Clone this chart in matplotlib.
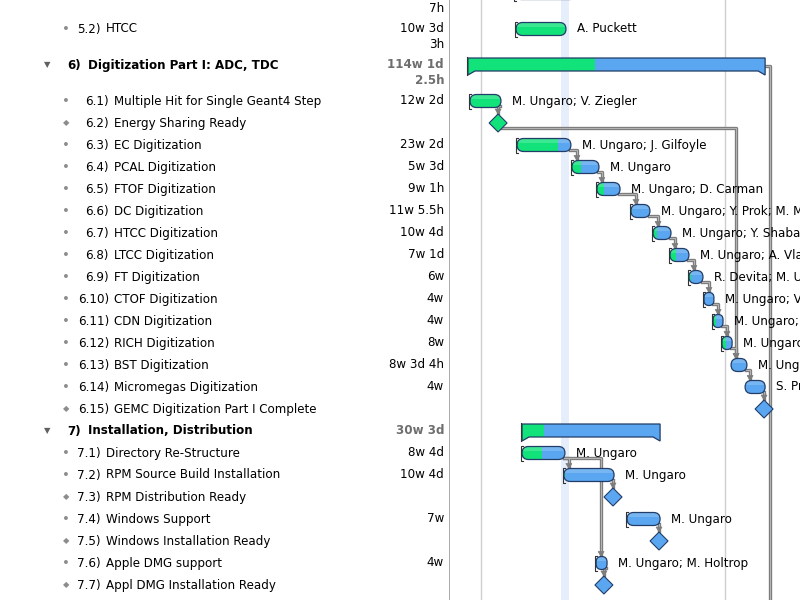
import matplotlib
matplotlib.use("Agg")
import matplotlib.pyplot as plt
from matplotlib.patches import FancyBboxPatch, Polygon, Rectangle

# outline rows (the first one is cut off by the top of the window)
numbers = ["5.1)", "5.2)", "6)", "6.1)", "6.2)", "6.3)", "6.4)", "6.5)", "6.6)",
           "6.7)", "6.8)", "6.9)", "6.10)", "6.11)", "6.12)", "6.13)", "6.14)",
           "6.15)", "7)", "7.1)", "7.2)", "7.3)", "7.4)", "7.5)", "7.6)", "7.7)"]
names = ["", "HTCC", "Digitization Part I: ADC, TDC",
         "Multiple Hit for Single Geant4 Step", "Energy Sharing Ready",
         "EC Digitization", "PCAL Digitization", "FTOF Digitization",
         "DC Digitization", "HTCC Digitization", "LTCC Digitization",
         "FT Digitization", "CTOF Digitization", "CDN Digitization",
         "RICH Digitization", "BST Digitization", "Micromegas Digitization",
         "GEMC Digitization Part I Complete", "Installation, Distribution",
         "Directory Re-Structure", "RPM Source Build Installation",
         "RPM Distribution Ready", "Windows Support",
         "Windows Installation Ready", "Apple DMG support",
         "Appl DMG Installation Ready"]
kinds = ["task", "task", "group", "task", "milestone", "task", "task", "task",
         "task", "task", "task", "task", "task", "task", "task", "task", "task",
         "milestone", "group", "task", "task", "milestone", "task", "milestone",
         "task", "milestone"]
durations = [("", "7h"), ("10w 3d", "3h"), ("114w 1d", "2.5h"), ("12w 2d",), ("",),
             ("23w 2d",), ("5w 3d",), ("9w 1h",), ("11w 5.5h",), ("10w 4d",),
             ("7w 1d",), ("6w",), ("4w",), ("4w",), ("8w",), ("8w 3d 4h",),
             ("4w",), ("",), ("30w 3d",), ("8w 4d",), ("10w 4d",), ("",),
             ("7w",), ("",), ("4w",), ("",)]

# schedule in weeks from the left edge of the gantt view
starts = [25.0, 25.4, 6.9, 7.7, 18.5, 25.8, 46.9, 56.5, 69.6, 78.1, 84.6, 91.9,
          97.7, 101.2, 104.6, 108.1, 113.5, 120.8, 27.7, 27.7, 43.8, 62.7, 68.1,
          80.4, 56.2, 59.2]
finishes = [48.5, 44.6, 121.2, 19.6, 18.5, 46.5, 57.3, 65.4, 76.9, 85.0, 91.9,
            97.3, 101.5, 105.0, 108.5, 114.2, 121.2, 120.8, 80.8, 44.2, 63.1,
            62.7, 80.8, 80.4, 60.4, 59.2]
done_until = [48.5, 44.6, 55.8, 19.6, 18.5, 41.5, 50.4, 59.2, 69.9, 79.6, 86.9,
              92.7, 97.7, 102.3, 106.2, 108.1, 113.5, 0, 36.2, 35.4, 44.2, 0,
              68.1, 0, 56.2, 0]
started = [1, 1, 1, 1, 0, 1, 1, 1, 1, 1, 1, 1, 1, 1, 1, 0, 0, 0, 0, 1, 1, 0, 1,
           0, 1, 0]
resources = ["", "A. Puckett", "", "M. Ungaro; V. Ziegler", "",
             "M. Ungaro; J. Gilfoyle", "M. Ungaro", "M. Ungaro; D. Carman",
             "M. Ungaro; Y. Prok; M. Mestayer", "M. Ungaro; Y. Shabatian",
             "M. Ungaro; A. Vlassov", "R. Devita; M. Ungaro",
             "M. Ungaro; V. Baturin", "M. Ungaro; G. Gavalian",
             "M. Ungaro; M. Contalbrigo", "M. Ungaro; Y. Gotra",
             "S. Procureur", "", "", "M. Ungaro", "M. Ungaro", "", "M. Ungaro",
             "", "M. Ungaro; M. Holtrop", ""]
dependencies = [(3, 4), (4, 15), (5, 6), (6, 7), (7, 8), (8, 9), (9, 10),
                (10, 11), (11, 12), (12, 13), (13, 14), (14, 15), (15, 16),
                (16, 17), (19, 20), (19, 24), (20, 21), (22, 23), (24, 25)]
grid_weeks = [11.9, 105.8]
today = (42.7, 45.8)

GREEN = "#12e27a"
BLUE = "#5ba6f0"
EDGE = "#213d68"
LINK = "#7d7d7d"
PX = 2.6  # pixels per week in the view
FS = 8.6

fig = plt.figure(figsize=(8, 6), dpi=100)
fig.patch.set_facecolor("white")
tab = fig.add_axes([0, 0, 450 / 800, 1])
tab.set_xlim(0, 450)
tab.set_ylim(600, 0)
tab.axis("off")
gan = fig.add_axes([450 / 800, 0, 350 / 800, 1])
gan.set_xlim(0, 350 / PX)
gan.set_ylim(600, 0)
gan.axis("off")

# row layout: rows with a wrapped duration are taller
ys = []
top = -18
for d in durations:
    ys.append(top + 11)
    top += 36 if len(d) > 1 else 22

# ---- outline table ----
for i, y in enumerate(ys):
    k = kinds[i]
    visible = y > 0  # first line of the top row is scrolled out of view
    if k == "group":
        tab.text(47, y, "\u25bc", fontsize=6, color="#606060", ha="center", va="center")
        tab.text(67, y, numbers[i], fontsize=FS, fontweight="bold", va="center")
        tab.text(88, y, names[i], fontsize=FS, fontweight="bold", va="center")
        col, wt = "#6e6e6e", "bold"
    else:
        if visible:
            if k == "milestone":
                tab.text(66, y, "\u25c6", fontsize=6, color="#8c8c8c", ha="center", va="center")
            else:
                tab.text(66, y, "\u2022", fontsize=9.5, color="#8c8c8c", ha="center", va="center")
            name_x = 114 if numbers[i].startswith("6.") else 106
            tab.text(name_x - 5, y, numbers[i], fontsize=FS, ha="right", va="center")
            tab.text(name_x, y, names[i], fontsize=FS, va="center")
        col, wt = "black", "normal"
    for j, line in enumerate(durations[i]):
        if line:
            tab.text(444, y + 15 * j, line, fontsize=FS, color=col, fontweight=wt,
                     ha="right", va="center")

tab.axvline(449.5, color="#9a9a9a", lw=1.2)

# ---- gantt view ----
gan.axvspan(today[0], today[1], color="#e7eefb", lw=0, zorder=0)
for g in grid_weeks:
    gan.axvline(g, color="#cfcfcf", lw=1, zorder=0.5)


def clip_to(patch, s, d):
    clip = Rectangle((s - 1, -50), d - s + 1, 800, transform=gan.transData)
    patch.set_clip_path(clip)


def pill(s, f, y, h, face, **kw):
    r = min(6.5 / PX, (f - s) / 2)
    return FancyBboxPatch((s, y - h / 2), f - s, h,
                          boxstyle=f"round,pad=0,rounding_size={r}",
                          mutation_aspect=PX, facecolor=face, **kw)


def arrow_x(i):
    return starts[i] if kinds[i] == "milestone" else starts[i] + 5 / PX


def top_of(i):
    return ys[i] - (9 if kinds[i] == "milestone" else 6.5)


def link(xs, yy, head=True):
    gan.plot(xs, yy, color=LINK, lw=2.4, solid_joinstyle="round", zorder=2)
    gan.plot(xs, yy, color="#b5b5b5", lw=0.7, zorder=2.1)
    if head:
        ax_, ay = xs[-1], yy[-1]
        tri = Polygon([(ax_ - 3 / PX, ay - 4), (ax_ + 3 / PX, ay - 4), (ax_, ay + 1)],
                      closed=True, facecolor=LINK, edgecolor=LINK, lw=0.5, zorder=2.2)
        gan.add_patch(tri)


# dependency links
for a, b in dependencies:
    if kinds[a] == "milestone":
        x0 = starts[a] + 4 / PX
    else:
        x0 = finishes[a] - 1 / PX
    y0 = ys[a] + 5
    x1 = arrow_x(b)
    link([x0, x1, x1], [y0, y0, top_of(b) - 1])

# summary 6 feeds a task further down, below the window
link([finishes[2], finishes[2] + 5 / PX, finishes[2] + 5 / PX],
     [ys[2] + 1, ys[2] + 1, 640], head=False)

for i, y in enumerate(ys):
    s, f, d = starts[i], finishes[i], done_until[i]
    k = kinds[i]
    if k == "milestone":
        hw = 9 / PX
        pts = [(s, y - 9), (s + hw, y), (s, y + 9), (s - hw, y)]
        face = GREEN if d >= s and d > 0 else BLUE
        gan.add_patch(Polygon(pts, closed=True, facecolor=face, edgecolor=EDGE,
                              lw=0.8, zorder=3))
        continue
    if k == "group":
        kk = 7 / PX
        pts = [(s, y - 7), (f, y - 7), (f, y + 10), (f - kk, y + 6),
               (s + kk, y + 6), (s, y + 10)]
        gan.add_patch(Polygon(pts, closed=True, facecolor=BLUE, lw=0, zorder=3))
        g = Polygon(pts, closed=True, facecolor=GREEN, lw=0, zorder=3.1)
        gan.add_patch(g)
        clip_to(g, s, d)
        gan.add_patch(Polygon(pts, closed=True, facecolor="none", edgecolor=EDGE,
                              lw=0.9, zorder=3.2))
        gan.plot([s - 1 / PX, s - 1 / PX], [y - 8, y + 10], color="#333333",
                 lw=0.8, zorder=3.3)
        continue
    gan.add_patch(pill(s, f, y, 13, BLUE, lw=0, zorder=3))
    if d > s:
        g = pill(s, f, y, 13, GREEN, lw=0, zorder=3.1)
        gan.add_patch(g)
        clip_to(g, s, d)
    # soft highlight on the upper half
    hl = pill(s, f, y, 13, "white", lw=0, alpha=0.18, zorder=3.15)
    gan.add_patch(hl)
    hl.set_clip_path(Rectangle((s - 1, y - 8), f - s + 2, 6, transform=gan.transData))
    gan.add_patch(pill(s, f, y, 13, "none", edgecolor=EDGE, lw=0.9, zorder=3.2))
    if started[i]:
        bx = s - 1.2 / PX
        gan.plot([bx + 2 / PX, bx, bx, bx + 2 / PX], [y - 7, y - 7, y + 8, y + 8],
                 color="#333333", lw=0.8, zorder=3.3)
    if resources[i]:
        gan.annotate(resources[i], (f, y), xytext=(11, 0), textcoords="offset pixels",
                     fontsize=FS, va="center", ha="left", zorder=4)

fig.savefig("out.png", dpi=100, facecolor="white")
